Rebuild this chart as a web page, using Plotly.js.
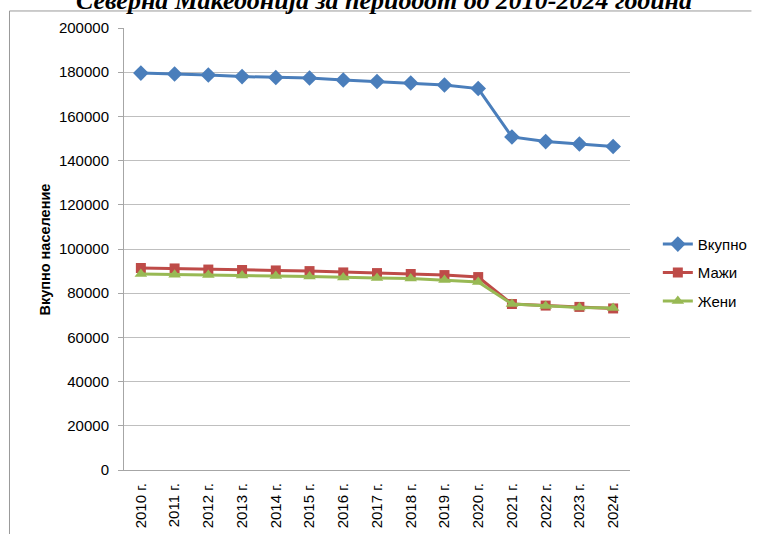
<!DOCTYPE html>
<html>
<head>
<meta charset="utf-8">
<script src="https://cdn.plot.ly/plotly-3.0.1.min.js"></script>
<style>html,body{margin:0;padding:0;background:#fff;}#chart{width:764px;height:534px;}</style>
</head>
<body>
<div id="chart"></div>
<script>
const years = ["2010 г.","2011 г.","2012 г.","2013 г.","2014 г.","2015 г.","2016 г.","2017 г.","2018 г.","2019 г.","2020 г.","2021 г.","2022 г.","2023 г.","2024 г."];
const vkupno = [179600,179200,178700,178000,177600,177400,176500,175800,175100,174200,172600,150700,148600,147500,146400];
const mazhi  = [91400,91200,90700,90500,90300,90000,89400,89100,88700,88200,87300,75100,74400,73800,73100];
const zheni  = [88700,88400,88200,88000,87800,87600,87100,86900,86700,86000,85100,75100,74200,73500,73300];
const yTicks = [0,20000,40000,60000,80000,100000,120000,140000,160000,180000,200000];

const font = "Liberation Sans, Arial, sans-serif";
const traces = [
  {x: years, y: vkupno, name: "Вкупно", type: "scatter", mode: "lines+markers", legendgroup: "a",
   line: {color: "#4a7ebb", width: 3}, marker: {symbol: "diamond", size: 12, color: "#4a7ebb"}},
  {x: years, y: mazhi, name: "Мажи", type: "scatter", mode: "lines+markers", legendgroup: "b",
   line: {color: "#be4b48", width: 3}, marker: {symbol: "square", size: 10, color: "#be4b48"}},
  {x: years, y: zheni, name: "Жени", type: "scatter", mode: "lines+markers", legendgroup: "c",
   line: {color: "#98b954", width: 3}, marker: {symbol: "triangle-up", size: 11, color: "#98b954"}}
];

const layout = {
  width: 764, height: 534,
  margin: {l: 124, r: 123, t: 28, b: 64, pad: 0},
  paper_bgcolor: "#ffffff", plot_bgcolor: "#ffffff",
  showlegend: true,
  legend: {x: 1.055, xanchor: "left", y: 0.446, yanchor: "middle", traceorder: "grouped", tracegroupgap: 6,
           font: {family: font, size: 15, color: "#000"}, bgcolor: "rgba(0,0,0,0)"},
  xaxis: {type: "category", range: [-0.5, 14.5], tickangle: -90, showgrid: false,
          showline: true, linecolor: "#a6a6a6", linewidth: 1, ticks: "",
          tickfont: {family: font, size: 15, color: "#000"}, ticklabelstandoff: 6, fixedrange: true},
  yaxis: {range: [0, 200000], tickvals: yTicks, ticktext: yTicks.map(String), showgrid: true, gridcolor: "#bfbfbf", gridwidth: 1,
          showline: true, linecolor: "#a6a6a6", linewidth: 1, ticks: "outside", ticklen: 5, tickcolor: "#a6a6a6",
          tickfont: {family: font, size: 15, color: "#000"}, ticklabelstandoff: 6, zeroline: false, fixedrange: true},
  annotations: [
    {text: "Вкупно население", xref: "paper", yref: "paper", x: -0.1567, y: 0.498, xanchor: "center", yanchor: "middle",
     textangle: -90, showarrow: false, font: {family: font, size: 14.5, color: "#000", weight: "bold"}},
    {text: "<b><i>Северна Македонија за периодот од 2010-2024 година</i></b>", xref: "paper", yref: "paper",
     x: 0.5145, y: 1.062, xanchor: "center", yanchor: "middle", showarrow: false,
     font: {family: "Liberation Serif, Times New Roman, serif", size: 26, color: "#000"}}
  ],
  shapes: [
    {type: "line", xref: "paper", yref: "paper", x0: -0.2263, x1: 1.24, y0: 1.0385, y1: 1.0385, line: {color: "#999", width: 1}},
    {type: "line", xref: "paper", yref: "paper", x0: -0.2263, x1: -0.2263, y0: 1.0385, y1: -0.15, line: {color: "#999", width: 1}}
  ]
};
Plotly.newPlot("chart", traces, layout, {displayModeBar: false, staticPlot: true});
</script>
</body>
</html>
